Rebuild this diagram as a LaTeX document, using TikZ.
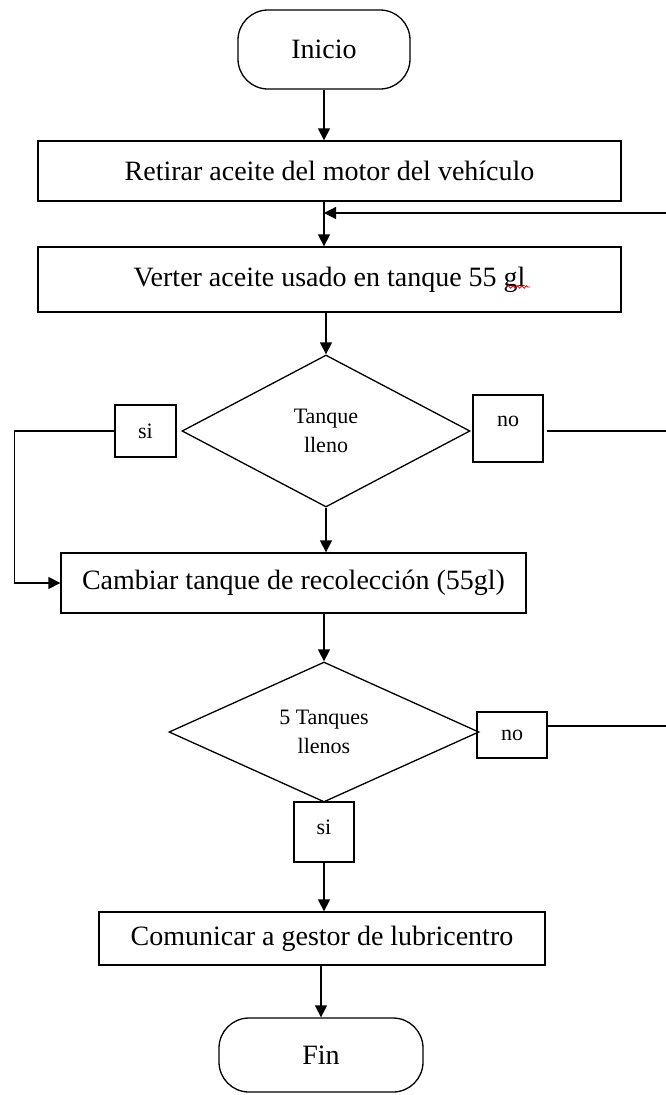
\documentclass[tikz,border=0pt]{standalone}
\usepackage{fontspec}
\setmainfont{Liberation Serif}
\usetikzlibrary{arrows.meta,shapes.geometric,decorations.pathmorphing}
\begin{document}
\begin{tikzpicture}[x=1pt,y=-1pt,
  line width=1.3pt,
  every node/.style={inner sep=0pt, line width=1.3pt},
  big/.style={font=\fontsize{28}{32}\selectfont},
  small/.style={font=\fontsize{22}{29}\selectfont},
  term/.style={draw, rounded corners=30pt, big},
  proc/.style={draw, rectangle, big},
  decide/.style={draw, diamond, small, align=center},
  tag/.style={draw, rectangle, small},
  arr/.style={-{Triangle[width=12pt,length=12pt]}}
]
\useasboundingbox (0,0) rectangle (666,1095);

% process nodes
\node[term, minimum width=172pt, minimum height=79pt] (ini) at (324,49.5) {Inicio};
\node[proc, minimum width=583pt, minimum height=60pt] (b1) at (329.5,171) {Retirar aceite del motor del vehículo};
\node[proc, minimum width=583pt, minimum height=65pt] (b2) at (329.5,279.5) {Verter aceite usado en tanque 55 gl};
\node[decide, minimum width=288pt, minimum height=152pt] (d1) at (326,431) {Tanque\\lleno};
\node[tag, minimum width=61pt, minimum height=52pt] (si1) at (145.5,431) {si};
\node[tag, minimum width=70pt, minimum height=67pt, label={[small,yshift=7pt]center:no}] (no1) at (508,428.5) {};
\node[proc, minimum width=465pt, minimum height=60pt] (b3) at (293.5,583) {Cambiar tanque de recolección (55gl)};
\node[decide, minimum width=310pt, minimum height=140pt] (d2) at (324,732) {5 Tanques\\llenos};
\node[tag, minimum width=70pt, minimum height=46pt] (no2) at (512,735) {no};
\node[tag, minimum width=60pt, minimum height=60pt, label={[small,yshift=5pt]center:si}] (si2) at (324,832) {};
\node[proc, minimum width=446pt, minimum height=53pt] (b4) at (322,938.5) {Comunicar a gestor de lubricentro};
\node[term, minimum width=204pt, minimum height=74pt] (fin) at (321,1055) {Fin};

% spell-check squiggle under "gl"
\draw[red, line width=0.8pt, decorate, decoration={snake, amplitude=1.3pt, segment length=4.5pt}] (507,287) -- (530,287);

% free ends at the right margin
\coordinate (ret) at (666,213);
\coordinate (ex1) at (666,431);
\coordinate (ex2) at (666,726);

% connectors
\draw[arr] (ini.south) -- (ini.south |- b1.north);
\draw[arr] (ini.south |- b1.south) -- (ini.south |- b2.north);
\draw[arr] (ret) -- (ret -| ini.south);
\draw[arr] (d1.north |- b2.south) -- (d1.north);
\draw[arr] (si1.west) -- ++(-100,0) |- (b3.west);
\draw (no1.east |- ex1) ++(3,0) -- (ex1);
\draw[arr] (d1.south) -- (d1.south |- b3.north);
\draw[arr] (d2.north |- b3.south) -- (d2.north);
\draw (no2.east |- ex2) -- (ex2);
\draw[arr] (si2.south) -- (si2.south |- b4.north);
\draw[arr] (fin.north |- b4.south) -- (fin.north);
\end{tikzpicture}
\end{document}
